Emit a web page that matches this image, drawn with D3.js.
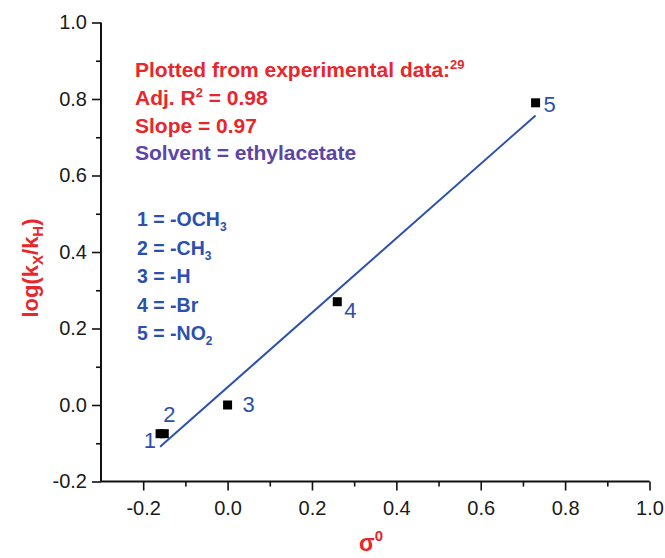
<!DOCTYPE html>
<html>
<head>
<meta charset="utf-8">
<script src="https://cdn.jsdelivr.net/npm/d3@7"></script>
<style>
  body { margin: 0; background: #fff; }
  svg { display: block; }
</style>
</head>
<body>
<svg id="chart"></svg>
<script>
// substituent constants and rate data
const sigma = [-0.16, -0.15, 0.00, 0.26, 0.73];
const logK = [-0.075, -0.075, 0.00, 0.27, 0.79];
const pointLabels = ["1", "2", "3", "4", "5"];

// linear fit endpoints
const fitX = [-0.16, 0.73];
const fitY = [-0.109, 0.757];

const xTicks = [-0.2, 0.0, 0.2, 0.4, 0.6, 0.8, 1.0];
const yTicks = [-0.2, 0.0, 0.2, 0.4, 0.6, 0.8, 1.0];
const xMinor = [-0.1, 0.1, 0.3, 0.5, 0.7, 0.9];
const yMinor = [-0.1, 0.1, 0.3, 0.5, 0.7, 0.9];

const legendLines = [
    ["1 = -OCH", "3"],
    ["2 = -CH", "3"],
    ["3 = -H", ""],
    ["4 = -Br", ""],
    ["5 = -NO", "2"]
];

const width = 665, height = 558;
const red = "#e8262c", blue = "#2c50ae", purple = "#5b45a8";

const svg = d3.select("#chart")
    .attr("width", width)
    .attr("height", height)
    .style("font-family", "Liberation Sans, Arial, sans-serif");

const x = d3.scaleLinear().domain([-0.3, 1.0]).range([101, 649.5]);
const y = d3.scaleLinear().domain([-0.2, 1.0]).range([481.5, 22.5]);

const fmt = d => d.toFixed(1);

// x axis
const gx = svg.append("g").attr("transform", `translate(0,${y(-0.2)})`);
gx.call(d3.axisBottom(x).tickValues(xTicks).tickFormat(fmt).tickSize(9).tickPadding(10));
gx.append("g").call(d3.axisBottom(x).tickValues(xMinor).tickFormat("").tickSize(5))
    .select(".domain").remove();

// y axis
const gy = svg.append("g").attr("transform", `translate(${x(-0.3)},0)`);
gy.call(d3.axisLeft(y).tickValues(yTicks).tickFormat(fmt).tickSize(9).tickPadding(5));
gy.append("g").call(d3.axisLeft(y).tickValues(yMinor).tickFormat("").tickSize(5))
    .select(".domain").remove();

svg.selectAll(".domain").attr("stroke", "#111").attr("stroke-width", 2);
svg.selectAll(".tick line").attr("stroke", "#111").attr("stroke-width", 1.6);
svg.selectAll(".tick text")
    .attr("fill", "#1a1a1a")
    .style("font-size", "20px");

// strip the outer end caps of the domain paths
gx.select(".domain").attr("d", `M${x(-0.3)},0H${x(1.0)}`);
gy.select(".domain").attr("d", `M0,${y(1.0)}V${y(-0.2)}`);

// fit line
svg.append("line")
    .attr("x1", x(fitX[0])).attr("y1", y(fitY[0]))
    .attr("x2", x(fitX[1])).attr("y2", y(fitY[1]))
    .attr("stroke", blue)
    .attr("stroke-width", 2);

// points
const pts = sigma.map((s, i) => ({ s: s, v: logK[i], label: pointLabels[i] }));
svg.selectAll("rect.pt")
    .data(pts)
    .join("rect")
    .attr("class", "pt")
    .attr("x", d => x(d.s) - 4.5)
    .attr("y", d => y(d.v) - 4.5)
    .attr("width", 9)
    .attr("height", 9)
    .attr("fill", "#000");

// point labels
const labelOffsets = [[-4, 14, "end"], [-1, -12, "start"], [15, 7, "start"], [7, 16, "start"], [8, 9, "start"]];
svg.selectAll("text.pl")
    .data(pts)
    .join("text")
    .attr("class", "pl")
    .attr("x", (d, i) => x(d.s) + labelOffsets[i][0])
    .attr("y", (d, i) => y(d.v) + labelOffsets[i][1])
    .attr("text-anchor", (d, i) => labelOffsets[i][2])
    .attr("fill", blue)
    .style("font-size", "22px")
    .text(d => d.label);

// annotation block
const note = svg.append("g").style("font-weight", "bold").style("font-size", "21px");
const t1 = note.append("text").attr("x", 135).attr("y", 77).attr("fill", red);
t1.append("tspan").text("Plotted from experimental data:");
t1.append("tspan").attr("dy", -8).style("font-size", "13px").text("29");

const t2 = note.append("text").attr("x", 135).attr("y", 105).attr("fill", red);
t2.append("tspan").text("Adj. R");
t2.append("tspan").attr("dy", -8).style("font-size", "13px").text("2");
t2.append("tspan").attr("dy", 8).text(" = 0.98");

note.append("text").attr("x", 135).attr("y", 133).attr("fill", red).text("Slope = 0.97");
note.append("text").attr("x", 135).attr("y", 160).attr("fill", purple).text("Solvent = ethylacetate");

// legend of substituents
const leg = svg.append("g").style("font-weight", "bold").style("font-size", "19.5px").attr("fill", blue);
legendLines.forEach((l, i) => {
    const t = leg.append("text").attr("x", 137).attr("y", 226 + i * 28.5);
    t.append("tspan").text(l[0]);
    if (l[1]) t.append("tspan").attr("dy", 5).style("font-size", "12px").text(l[1]);
});

// axis titles
const yl = svg.append("text")
    .attr("transform", "translate(38,268) rotate(-90)")
    .attr("text-anchor", "middle")
    .attr("fill", red)
    .style("font-weight", "bold")
    .style("font-size", "22px");
yl.append("tspan").text("log(k");
yl.append("tspan").attr("dy", 5).style("font-size", "15px").text("X");
yl.append("tspan").attr("dy", -5).text("/k");
yl.append("tspan").attr("dy", 5).style("font-size", "15px").text("H");
yl.append("tspan").attr("dy", -5).text(")");

const xl = svg.append("text")
    .attr("x", 371)
    .attr("y", 551)
    .attr("text-anchor", "middle")
    .attr("fill", red)
    .style("font-weight", "bold")
    .style("font-size", "23px");
xl.append("tspan").text("σ");
xl.append("tspan").attr("dy", -10).style("font-size", "15px").text("0");
</script>
</body>
</html>
